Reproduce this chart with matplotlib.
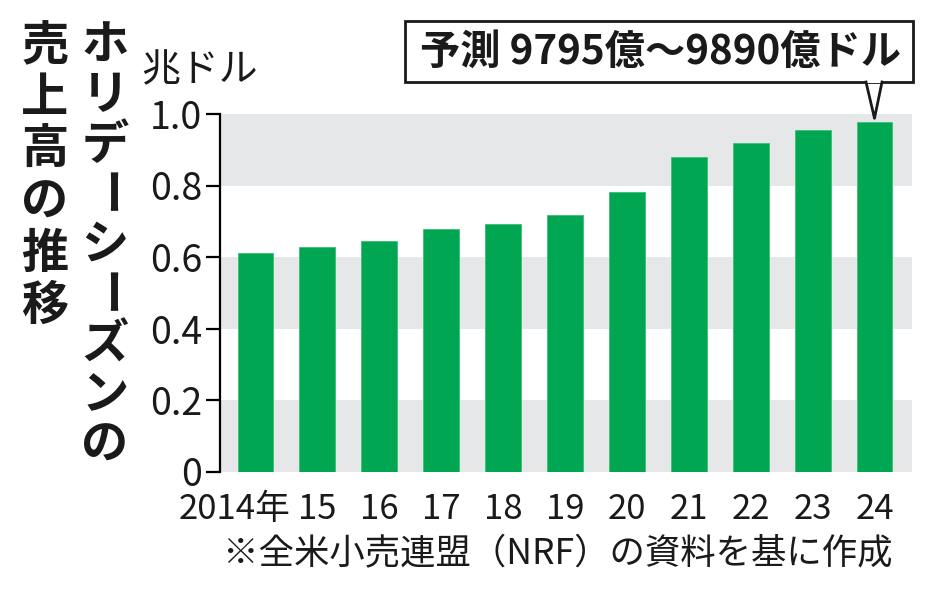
import matplotlib
matplotlib.use("Agg")
import matplotlib.pyplot as plt
from matplotlib.patches import Rectangle
from matplotlib.lines import Line2D
from matplotlib.transforms import ScaledTranslation

plt.rcParams['font.family'] = ['Noto Sans CJK JP', 'DejaVu Sans']

# data
years = ['2014年', '15', '16', '17', '18', '19', '20', '21', '22', '23', '24']
sales = [0.61, 0.627, 0.646, 0.678, 0.691, 0.717, 0.781, 0.879, 0.920, 0.956, 0.978]
yticks = [0, 0.2, 0.4, 0.6, 0.8, 1.0]
ytick_labels = ['0', '0.2', '0.4', '0.6', '0.8', '1.0']
title_right = 'ホリデーシーズンの'
title_left = '売上高の推移'
callout = '予測 9795億～9890億ドル'
unit = '兆ドル'
note = '※全米小売連盟（NRF）の資料を基に作成'

W, H = 934, 591
fig = plt.figure(figsize=(W / 100, H / 100), dpi=100)
ax = fig.add_axes([220 / W, 1 - 471.5 / H, (912 - 220) / W, (471.5 - 114) / H])

# gray bands
for lo in (0.0, 0.4, 0.8):
    ax.axhspan(lo, lo + 0.2, color='#e6e7e8', lw=0, zorder=0)

x = list(range(len(years)))
ax.bar(x, sales, width=0.58, color='#00a651', edgecolor='#3cc070', linewidth=0.6, zorder=2)

ax.set_xlim(-0.574, 10.606)
ax.set_ylim(0, 1.0)
for s in ('top', 'right', 'bottom'):
    ax.spines[s].set_visible(False)
ax.spines['left'].set_linewidth(1.6)
ax.set_yticks(yticks)
ax.set_yticklabels(ytick_labels, fontsize=27, color='#1a1a1a')
ax.tick_params(axis='y', length=10, width=1.6, pad=3)
ax.set_xticks(x)
ax.set_xticklabels(years, fontsize=25, color='#1a1a1a')
ax.tick_params(axis='x', length=0, pad=15)
lbl = ax.get_xticklabels()[0]
lbl.set_transform(lbl.get_transform() + ScaledTranslation(-0.21, 0, fig.dpi_scale_trans))

def fx(px):
    return px / W

def fy(py):
    return 1 - py / H

# unit label
fig.text(fx(200), fy(70), unit, fontsize=28, ha='center', va='center', color='#1a1a1a')

# vertical title
for i, ch in enumerate(title_right):
    rot = -90 if ch == 'ー' else 0
    fig.text(fx(105), fy(20 + 50 * (i + 0.5)), ch, fontsize=34, fontweight='bold',
             ha='center', va='center', rotation=rot, color='#1a1a1a')
for i, ch in enumerate(title_left):
    fig.text(fx(45), fy(20 + 52 * (i + 0.5)), ch, fontsize=34, fontweight='bold',
             ha='center', va='center', color='#1a1a1a')

# callout box
fig.patches.append(Rectangle((fx(405), fy(82)), fx(913) - fx(405), fy(21) - fy(82),
                             transform=fig.transFigure, facecolor='white',
                             edgecolor='#1a1a1a', linewidth=2))
tip = ax.transData.transform((10, sales[-1] + 0.01))
tipf = fig.transFigure.inverted().transform(tip)
fig.patches.append(Rectangle((fx(867), fy(83)), fx(881) - fx(867), 3 / H,
                             transform=fig.transFigure, facecolor='white', edgecolor='none'))
fig.lines.append(Line2D([fx(866), tipf[0], fx(882)], [fy(82), tipf[1], fy(82)],
                        transform=fig.transFigure, color='#1a1a1a', linewidth=2))
fig.text(fx(660), fy(52), callout, fontsize=29, fontweight='bold',
         ha='center', va='center', color='#1a1a1a')

# source note
fig.text(fx(558), fy(554), note, fontsize=25.5, ha='center', va='center', color='#1a1a1a')

fig.savefig('out.png', dpi=100)
